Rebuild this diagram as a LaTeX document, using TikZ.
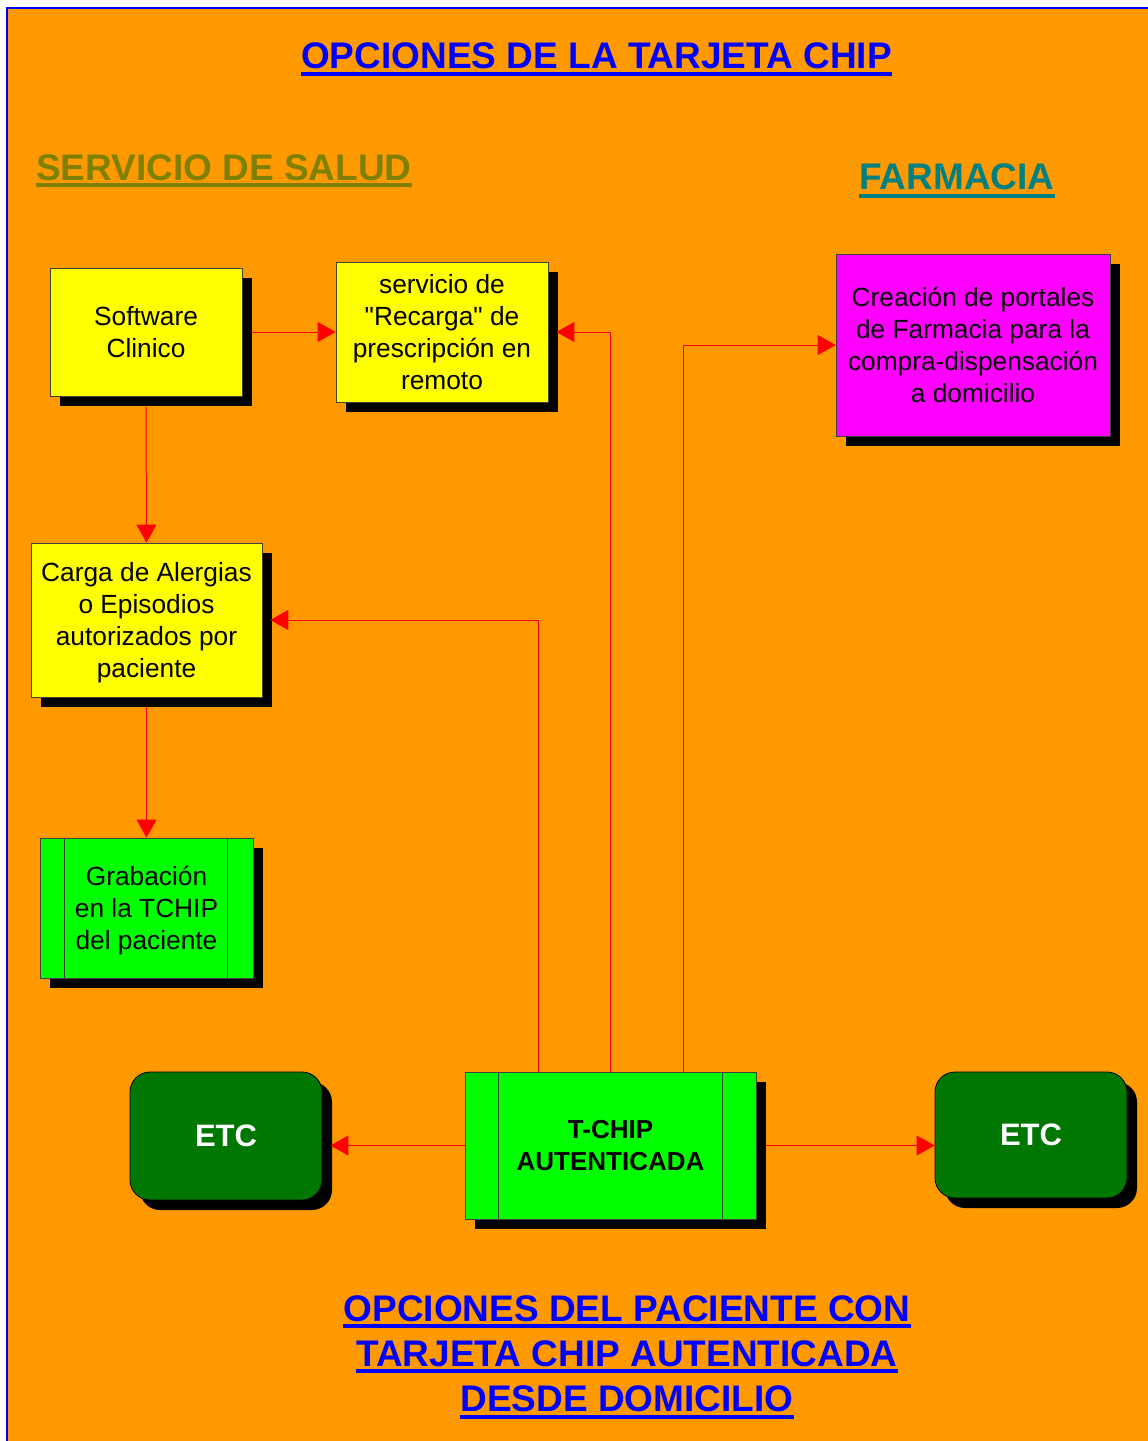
\documentclass[tikz,border=0pt]{standalone}
\usepackage{fontspec}
\setmainfont{Liberation Sans}[Ligatures=TeXOff]
\usetikzlibrary{arrows.meta,shadows,calc}
\definecolor{bgorange}{HTML}{FF9900}
\definecolor{boxyellow}{HTML}{FFFF00}
\definecolor{boxmagenta}{HTML}{FF00FF}
\definecolor{boxgreen}{HTML}{00FF00}
\definecolor{etcgreen}{HTML}{007700}
\definecolor{olivetitle}{HTML}{808000}
\definecolor{tealtitle}{HTML}{008080}
\begin{document}
\begin{tikzpicture}[x=1pt,y=-1pt,
  shadowed/.style={drop shadow={shadow xshift=10pt,shadow yshift=-10pt,fill=black,opacity=1}},
  box/.style={shadowed,draw=black!75,line width=0.8pt,inner sep=0pt,align=center,text depth=0pt,
    font=\fontsize{26.3}{32}\selectfont},
  etcbox/.style={shadowed,draw=black,line width=0.8pt,fill=etcgreen,rounded corners=20pt,
    inner sep=0pt,text=white,font=\fontsize{31}{36}\selectfont\bfseries},
  heading/.style={inner sep=0pt,font=\fontsize{37}{45}\selectfont\bfseries},
  arr/.style={draw=red,line width=1pt,-{Triangle[length=18pt,width=20pt]}}]
\useasboundingbox (0,0) rectangle (1148,1441);
\fill[white] (0,0) rectangle (1148,1441);
\fill[bgorange] (7,8) rectangle (1148,1441);
\draw[blue,line width=2pt] (7,1441) -- (7,8) -- (1148,8);

% headings
\node[heading,text=blue,anchor=base] (t1) at (596.5,68) {OPCIONES DE LA TARJETA CHIP};
\draw[blue,line width=4pt] ([yshift=-5.7pt]t1.base west) -- ([yshift=-5.7pt]t1.base east);
\node[heading,text=olivetitle,anchor=base west] (t2) at (36,180) {SERVICIO DE SALUD};
\draw[olivetitle,line width=4pt] ([yshift=-5.3pt]t2.base west) -- ([yshift=-5.3pt]t2.base east);
\node[heading,text=tealtitle,anchor=base west] (t3) at (859,189) {FARMACIA};
\draw[tealtitle,line width=4pt] ([yshift=-6.5pt]t3.base west) -- ([yshift=-6.5pt]t3.base east);
\node[heading,text=blue,anchor=base] (b1) at (627,1321) {OPCIONES DEL PACIENTE CON};
\draw[blue,line width=4pt] ([yshift=-5pt]b1.base west) -- ([yshift=-5pt]b1.base east);
\node[heading,text=blue,anchor=base] (b2) at (627,1366) {TARJETA CHIP AUTENTICADA};
\draw[blue,line width=4pt] ([yshift=-5pt]b2.base west) -- ([yshift=-5pt]b2.base east);
\node[heading,text=blue,anchor=base] (b3) at (627,1411) {DESDE DOMICILIO};
\draw[blue,line width=4pt] ([yshift=-5.5pt]b3.base west) -- ([yshift=-5.5pt]b3.base east);

% boxes
\node[box,fill=boxyellow,minimum width=192pt,minimum height=128pt] (sw) at (146,332) {Software\\Clinico};
\node[box,fill=boxyellow,minimum width=212pt,minimum height=140pt] (rec) at (442,332) {servicio de\\"Recarga" de\\prescripción en\\remoto};
\node[box,fill=boxmagenta,minimum width=274pt,minimum height=182pt] (crea) at (973,345) {Creación de portales\\de Farmacia para la\\compra-dispensación\\a domicilio};
\node[box,fill=boxyellow,minimum width=231pt,minimum height=154pt] (carga) at (146.5,620) {Carga de Alergias\\o Episodios\\autorizados por\\paciente};
\node[box,fill=boxgreen,minimum width=213pt,minimum height=140pt] (grab) at (146.5,908) {Grabación\\en la TCHIP\\del paciente};
\draw[black!75,line width=0.8pt] ([xshift=25pt]grab.north west) -- ([xshift=25pt]grab.south west)
  ([xshift=-26pt]grab.north east) -- ([xshift=-26pt]grab.south east);
\node[box,fill=boxgreen,minimum width=291pt,minimum height=147pt,font=\fontsize{26}{32}\selectfont\bfseries] (tchip) at (610.5,1145.5) {T-CHIP\\AUTENTICADA};
\draw[black!75,line width=0.8pt] ([xshift=34pt]tchip.north west) -- ([xshift=34pt]tchip.south west)
  ([xshift=-34pt]tchip.north east) -- ([xshift=-34pt]tchip.south east);
\node[etcbox,minimum width=192pt,minimum height=128pt] (etcL) at (226,1136) {ETC};
\node[etcbox,minimum width=192pt,minimum height=126pt] (etcR) at (1031,1135) {ETC};

% connectors
\draw[arr] ([xshift=10pt]sw.east) -- (rec.west);
\draw[arr] ([yshift=-10pt]sw.south) -- (carga.north);
\draw[arr] ([yshift=-10pt]carga.south) -- (grab.north);
\draw[arr] ([xshift=-72.5pt]tchip.north) |- ([xshift=8pt]carga.east);
\draw[arr] (tchip.north) |- ([xshift=8pt]rec.east);
\draw[arr] ([xshift=72.5pt]tchip.north) |- (crea.west);
\draw[arr] (tchip.west) -- ([xshift=8pt]etcL.east |- tchip.west);
\draw[arr] ([xshift=10pt]tchip.east) -- (etcR.west |- tchip.east);
\end{tikzpicture}
\end{document}
